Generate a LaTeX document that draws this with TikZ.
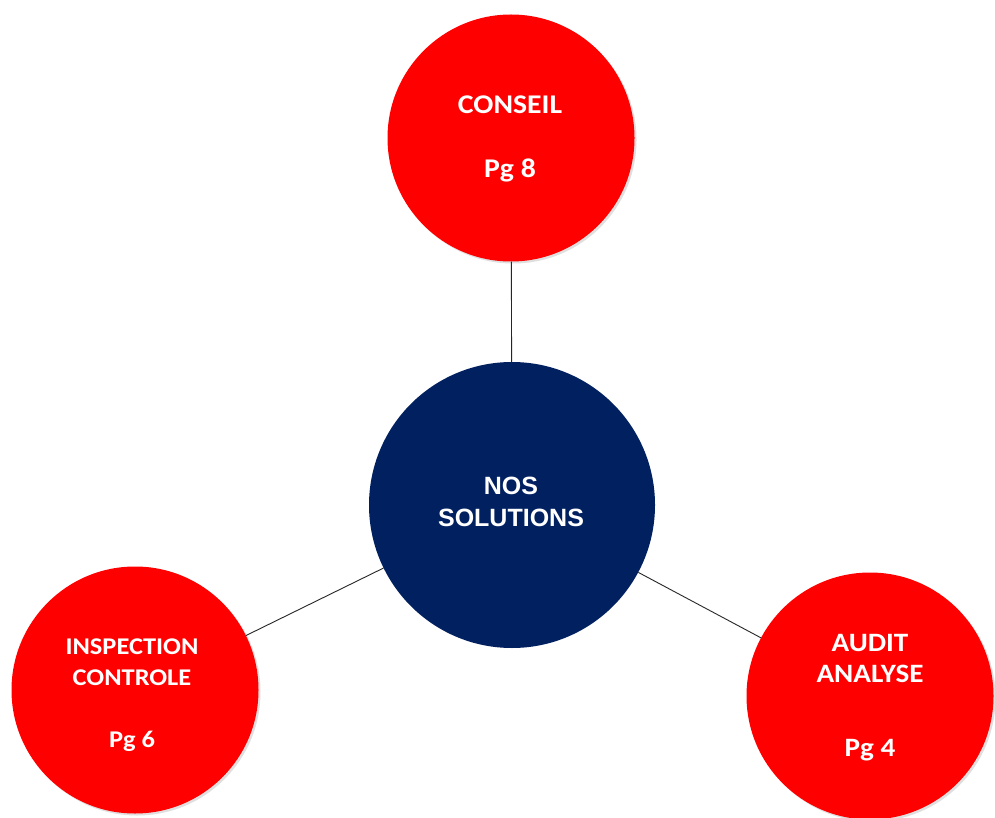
\documentclass[tikz,border=0pt]{standalone}
\usepackage{fontspec}
\setmainfont{Carlito}[FakeStretch=1.1]
\newfontfamily\arialfont{Liberation Sans}
\usetikzlibrary{shadows}
\definecolor{solred}{RGB}{255,0,0}
\definecolor{solnavy}{RGB}{0,32,96}
\begin{document}
\begin{tikzpicture}[x=1pt,y=-1pt,
  redball/.style={circle,fill=solred,minimum size=247pt,inner sep=0pt,
    drop shadow={opacity=0.25,shadow xshift=2pt,shadow yshift=-2pt}},
  navyball/.style={circle,fill=solnavy,minimum size=286pt,inner sep=0pt},
  balltext/.style={text=white,font=\bfseries\fontsize{#1}{31}\selectfont,align=center},
  balltext/.default=24,
  link/.style={draw=black!85,line width=0.9pt}]
\useasboundingbox[fill=white] (0,0) rectangle (995,818);
\node[redball] (conseil) at (511,138) {};
\node[redball] (inspection) at (135,690) {};
\node[redball] (audit) at (870,696) {};
\node[navyball] (nos) at (512,505) {};
\draw[link] (conseil) -- (nos);
\draw[link] (inspection) -- (nos);
\draw[link] (audit) -- (nos);
\node[balltext=27] (tconseil) at (510,139) {CONSEIL\\[33pt]Pg 8};
\node[balltext] (tinspection) at (132,695) {INSPECTION\\CONTROLE\\[31pt]Pg 6};
\node[balltext=26.5] (taudit) at (870,698) {AUDIT\\ANALYSE\\[43pt]Pg 4};
\node[text=white,font=\arialfont\bfseries\fontsize{25}{32}\selectfont,align=center] (tnos) at (511,502) {NOS\\SOLUTIONS};
\end{tikzpicture}
\end{document}
